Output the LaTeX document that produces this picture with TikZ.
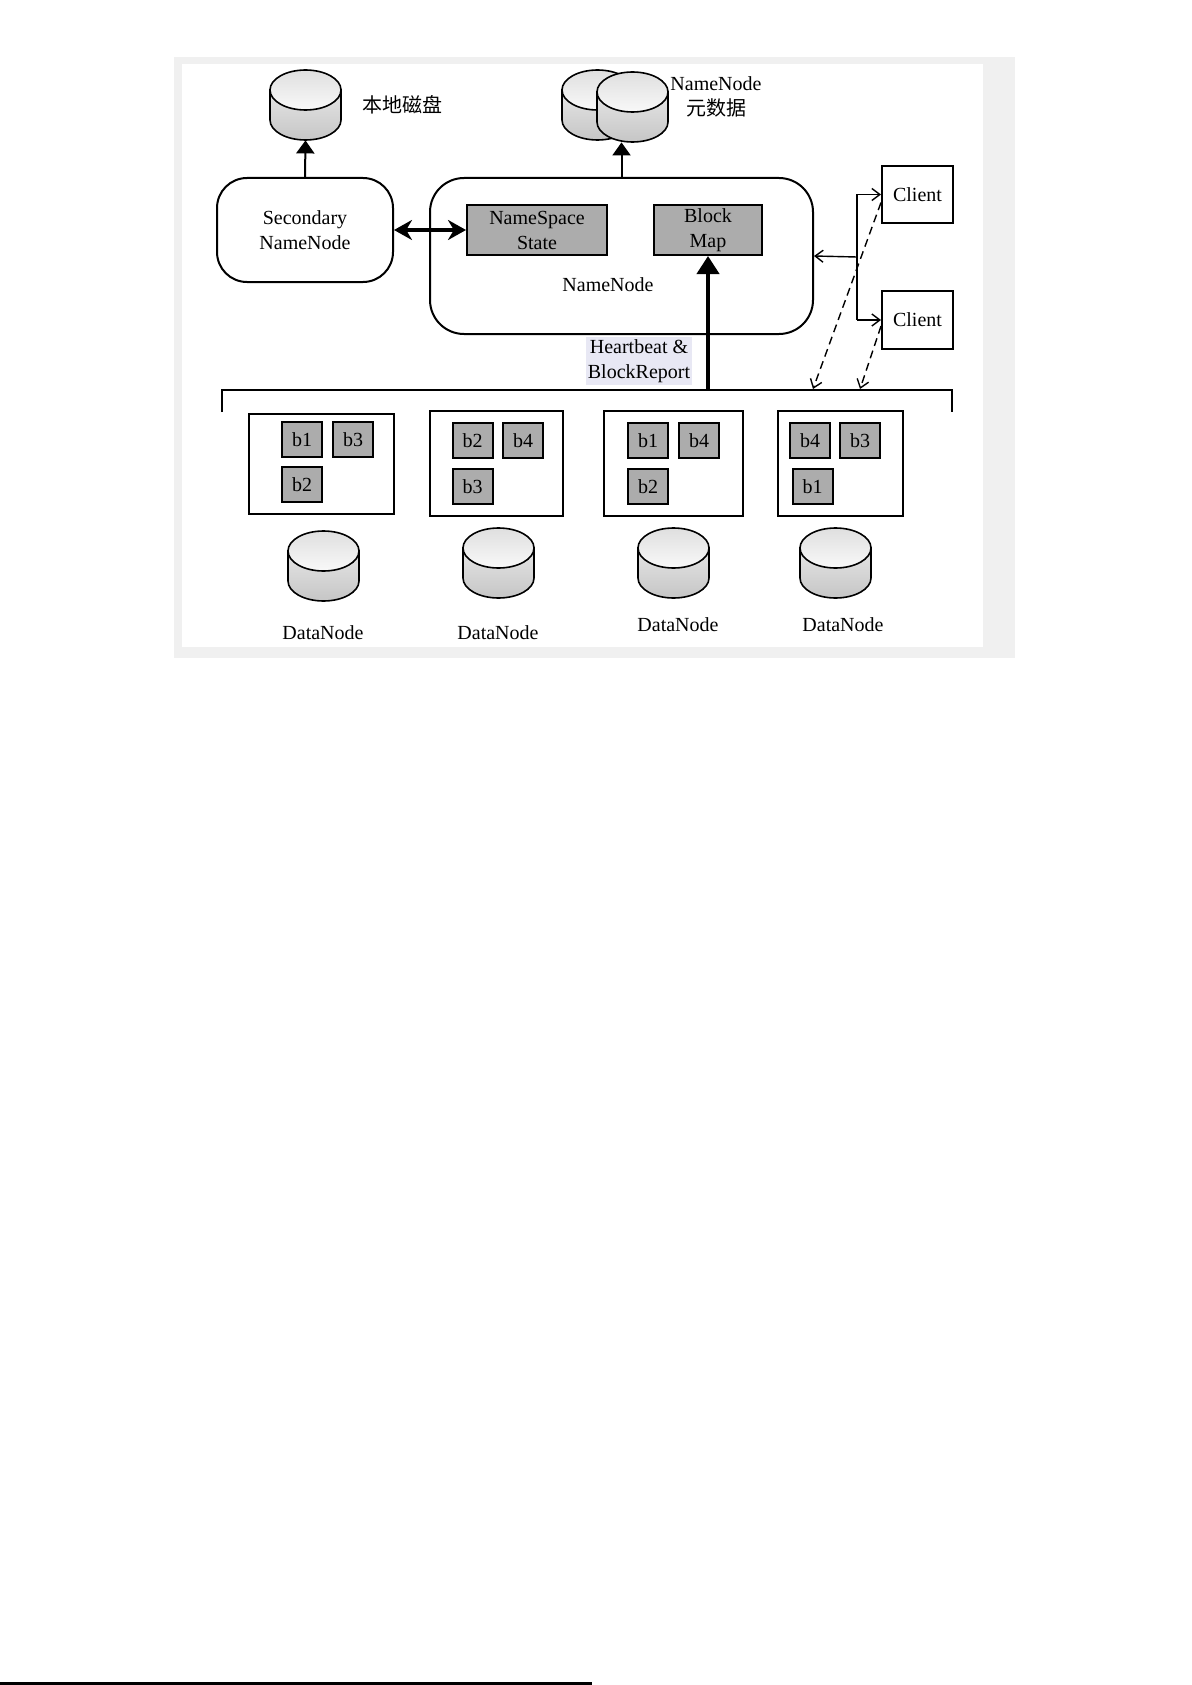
\documentclass[tikz,border=0pt]{standalone}
\usepackage{fontspec}
\setmainfont{Liberation Serif}
\newfontfamily\cjk{Noto Sans CJK SC}
\usetikzlibrary{arrows.meta, positioning}
\definecolor{framegray}{RGB}{240,240,240}
\definecolor{hilite}{RGB}{232,232,244}
% disk: name, centre x, top y
\newcommand{\drawdisk}[3]{%
  \draw[line width=0.8pt, top color=gray!20, bottom color=gray!45]
    ({#2-35.5},{#3+20}) -- ({#2-35.5},{#3+50})
    arc[start angle=180, end angle=0, x radius=35.5, y radius=20]
    -- ({#2+35.5},{#3+20}) -- cycle;
  \draw[line width=0.8pt, top color=gray!25, bottom color=gray!5]
    (#2,{#3+20}) ellipse [x radius=35.5, y radius=20];
  \node[inner sep=0pt, minimum width=35.5pt, minimum height=35pt] (#1) at (#2,{#3+35}) {};
}

\begin{document}
\begin{tikzpicture}[x=0.5pt, y=-0.5pt,
  every node/.style={font=\fontsize{10}{12.5}\selectfont, align=center},
  box/.style={draw, line width=1pt, inner sep=0pt},
  blk/.style={box, fill=gray!65, minimum width=20pt, minimum height=17.5pt},
  big/.style={-{Triangle[width=9pt,length=6.5pt]}, line width=1pt},
  thin/.style={-{Straight Barb[width=6pt,length=4pt]}, line width=0.7pt}]
\useasboundingbox (0,0) rectangle (1191,1685);
\fill[framegray] (174,57) rectangle (1015,658);
\fill[white] (182,64) rectangle (983,647);
\draw[line width=1.2pt] (0,1683.5) -- (592,1683.5);

% disks on top
\drawdisk{local}{305.5}{70}
\node[right] (localtxt) at (355,105) {\cjk 本地磁盘};
\drawdisk{metaback}{597.5}{70}
\drawdisk{metafront}{632.5}{72}
\node (metatxt) at (716,97) {NameNode\\{\cjk 元数据}};

% name nodes
\node[box, rounded corners=15pt, minimum width=88pt, minimum height=52pt] (snn) at (305,230)
{Secondary\\NameNode};
\node[box, rounded corners=17pt, minimum width=191.5pt, minimum height=78pt] (nn) at (621.5,256) {};
\node (nntxt) at (608,285) {NameNode};
\node[box, fill=gray!65, minimum width=70pt, minimum height=25pt] (nss) at (537,230)
{NameSpace\\State};
\node[box, fill=gray!65, minimum width=54pt, minimum height=25pt] (bmap) at (708,230)
{Block\\Map};
\node[box, minimum width=35.5pt, minimum height=28.5pt] (client1) at (917.5,194.5) {Client};
\node[box, minimum width=35.5pt, minimum height=29pt] (client2) at (917.5,320) {Client};

\draw[big] (snn.north) -- (local.south);
\draw[big] (nn.north) -- (nn.north |- metafront.south);
\draw[{Stealth[width=10pt,length=9pt]}-{Stealth[width=10pt,length=9pt]}, line width=2pt]
(snn.east) -- (nss.west);

% clients
\coordinate (cj) at (857,257);
\draw[line width=0.7pt] (cj |- client1) -- (cj |- client2);
\draw[thin] (cj) -- (nn.east);
\draw[thin] (cj |- client1) -- (client1.west);
\draw[thin] (cj |- client2) -- (client2.west);
\coordinate (d1) at (813,389);
\coordinate (d2) at (860,389);
\draw[thin, dashed, dash pattern=on 4pt off 2.5pt] ([yshift=-4pt]client1.west) -- (d1);
\draw[thin, dashed, dash pattern=on 4pt off 2.5pt] ([yshift=-3pt]client2.west) -- (d2);

% bus and heartbeat
\coordinate (busl) at (222,412);
\coordinate (busr) at (952,412);
\coordinate (hb) at (708,390);
\draw[line width=1pt] (busl) -- (busl |- hb) -- (busr |- hb) -- (busr);
\draw[line width=2pt, -{Triangle[width=11pt,length=9pt]}] (hb) -- (bmap.south);
\node[fill=hilite, inner sep=1pt] (hbtxt) at (639,361) {Heartbeat \&\\BlockReport};

% data nodes
\node[box, minimum width=72.5pt, minimum height=50pt] (dn1) at (321.5,464) {};
\node[blk] (dn1a) at (302,439.5) {b1};
\node[blk] (dn1b) at (353,439.5) {b3};
\node[blk] (dn1c) at (302,484.5) {b2};
\drawdisk{disk1}{323.5}{531}
\node (dn1txt) at (323,633) {DataNode};

\node[box, minimum width=66.5pt, minimum height=52.5pt] (dn2) at (496.5,463.5) {};
\node[blk] (dn2a) at (472.5,440.5) {b2};
\node[blk] (dn2b) at (523,440.5) {b4};
\node[blk] (dn2c) at (472.5,486.5) {b3};
\drawdisk{disk2}{498.5}{528}
\node (dn2txt) at (498,633) {DataNode};

\node[box, minimum width=69.5pt, minimum height=52.5pt] (dn3) at (673.5,463.5) {};
\node[blk] (dn3a) at (648,440.5) {b1};
\node[blk] (dn3b) at (699,440.5) {b4};
\node[blk] (dn3c) at (648,486.5) {b2};
\drawdisk{disk3}{673.5}{528}
\node (dn3txt) at (678,625) {DataNode};

\node[box, minimum width=62.5pt, minimum height=52.5pt] (dn4) at (840.5,463.5) {};
\node[blk] (dn4a) at (810,440.5) {b4};
\node[blk] (dn4b) at (860,440.5) {b3};
\node[blk] (dn4c) at (812.5,486.5) {b1};
\drawdisk{disk4}{835.5}{528}
\node (dn4txt) at (843,625) {DataNode};
\end{tikzpicture}
\end{document}
